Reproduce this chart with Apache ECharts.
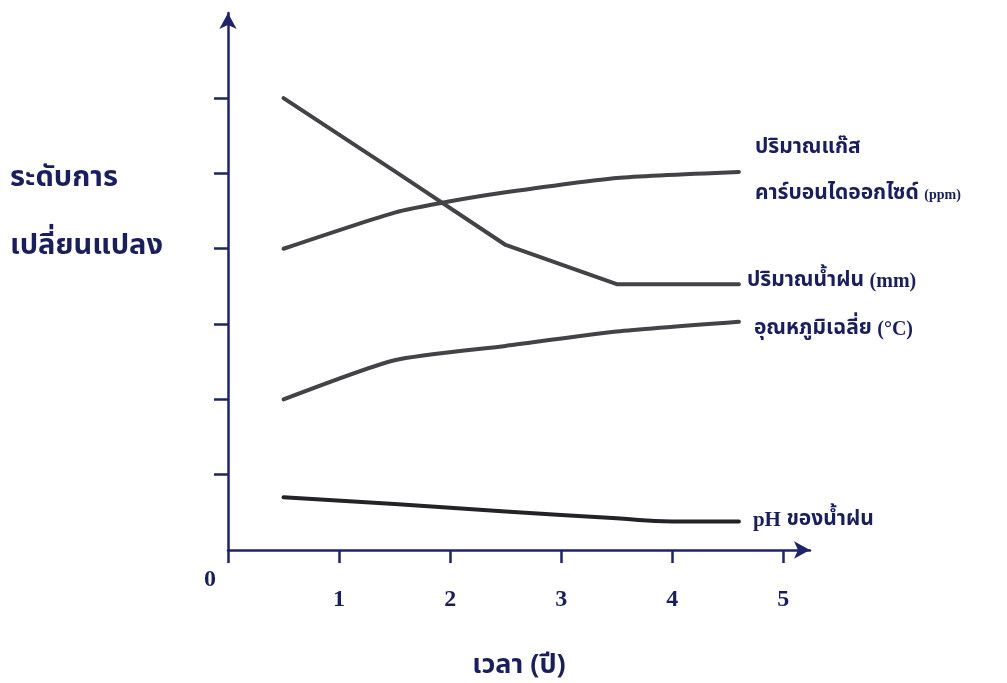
<!DOCTYPE html>
<html><head><meta charset="utf-8">
<script src="https://cdn.jsdelivr.net/npm/echarts@6/dist/echarts.min.js"></script>
<style>html,body{margin:0;padding:0;background:#fff}#c{width:1007px;height:683px}</style>
</head><body><div id="c"></div>
<script>
// ---- data ----
const xTicks = [0, 1, 2, 3, 4, 5];
const yTicks = [1, 2, 3, 4, 5, 6];
const co2 = [[0.5, 4.0], [1.5, 4.48], [2.0, 4.63], [2.5, 4.75], [3.5, 4.94], [4.6, 5.02]];
const rain = [[0.5, 6.0], [1.5, 5.03], [2.5, 4.05], [3.5, 3.53], [4.6, 3.53]];
const temp = [[0.5, 2.0], [1.5, 2.52], [2.5, 2.71], [3.5, 2.9], [4.6, 3.03]];
const ph = [[0.5, 0.7], [1.5, 0.61], [2.5, 0.51], [3.5, 0.42], [4.0, 0.38], [4.6, 0.38]];
const seriesNames = ['ปริมาณแก๊สคาร์บอนไดออกไซด์', 'ปริมาณน้ำฝน', 'อุณหภูมิเฉลี่ย', 'pH ของน้ำฝน'];
const yTitle = 'ระดับการ\nเปลี่ยนแปลง';
const xTitle = 'เวลา (ปี)';

const AX = '#1e2466';
const TXT = '#1a1f5c';
const FT = '"Noto Sans Thai", "Liberation Serif", serif';
const LINE = '#434347';

const chart = echarts.init(document.getElementById('c'), null, {renderer: 'canvas'});

function lineSeries(name, data, color, smooth, label) {
  return {
    type: 'line', name, data, smooth, showSymbol: false, symbol: 'none',
    lineStyle: {color, width: 4, cap: 'round', join: 'round'},
    endLabel: Object.assign({show: true, color: TXT, fontFamily: FT, fontWeight: 'bold', fontSize: 21}, label),
    z: 3, animation: false
  };
}

chart.setOption({
  animation: false,
  backgroundColor: '#ffffff',
  grid: {left: 228, right: 197, top: 13, bottom: 133, containLabel: false, outerBoundsMode: 'none'},
  xAxis: {
    type: 'value', min: 0, max: 5.24,
    axisLine: {show: true, onZero: false, lineStyle: {color: AX, width: 2.5}, symbol: ['none', 'arrow'], symbolSize: [13, 16]},
    axisTick: {show: true, customValues: xTicks, length: 13, lineStyle: {color: AX, width: 2.5}},
    axisLabel: {
      show: true, customValues: xTicks, margin: 18,
      formatter: v => v === 0 ? '{z|0}' : '{n|' + v + '}',
      rich: {
        z: {fontFamily: '"Liberation Serif", serif', fontWeight: 'bold', fontSize: 24, color: TXT, padding: [0, 36, 0, 0]},
        n: {fontFamily: '"Liberation Serif", serif', fontWeight: 'bold', fontSize: 24, color: TXT, padding: [20, 0, 0, 0]}
      }
    },
    splitLine: {show: false},
    name: xTitle, nameLocation: 'middle', nameGap: 104,
    nameTextStyle: {fontFamily: FT, fontSize: 27, fontWeight: 'bold', color: TXT}
  },
  yAxis: {
    type: 'value', min: 0, max: 7.13,
    axisLine: {show: true, onZero: false, lineStyle: {color: AX, width: 2.5}, symbol: ['none', 'arrow'], symbolSize: [13, 16]},
    axisTick: {show: true, customValues: yTicks, length: 14, lineStyle: {color: AX, width: 2.5}},
    axisLabel: {show: false},
    splitLine: {show: false}
  },
  graphic: [{
    type: 'text', left: 10, top: 146,
    style: {text: yTitle, fontFamily: FT, fontSize: 29, fontWeight: 'bold', fill: TXT, lineHeight: 68}
  }],
  series: [
    lineSeries(seriesNames[0], co2, LINE, 0.2, {
      formatter: 'ปริมาณแก๊ส\nคาร์บอนไดออกไซด์ {s|(ppm)}', lineHeight: 46, offset: [8, 0],
      rich: {s: {fontFamily: '"Liberation Serif", serif', fontWeight: 'bold', fontSize: 14, color: TXT}}
    }),
    lineSeries(seriesNames[1], rain, LINE, false, {
      formatter: 'ปริมาณน้ำฝน {m|(mm)}', offset: [0, -2],
      rich: {m: {fontFamily: '"Liberation Serif", serif', fontWeight: 'bold', fontSize: 20, color: TXT}}
    }),
    lineSeries(seriesNames[2], temp, LINE, 0.2, {
      formatter: 'อุณหภูมิเฉลี่ย {m|(°C)}', offset: [7, 8],
      rich: {m: {fontFamily: '"Liberation Serif", serif', fontWeight: 'bold', fontSize: 20, color: TXT}}
    }),
    lineSeries(seriesNames[3], ph, '#232327', 0.5, {
      formatter: '{m|pH} ของน้ำฝน', offset: [6, -1],
      rich: {m: {fontFamily: '"Liberation Serif", serif', fontWeight: 'bold', fontSize: 21, color: TXT}}
    })
  ]
});
</script>
</body></html>
